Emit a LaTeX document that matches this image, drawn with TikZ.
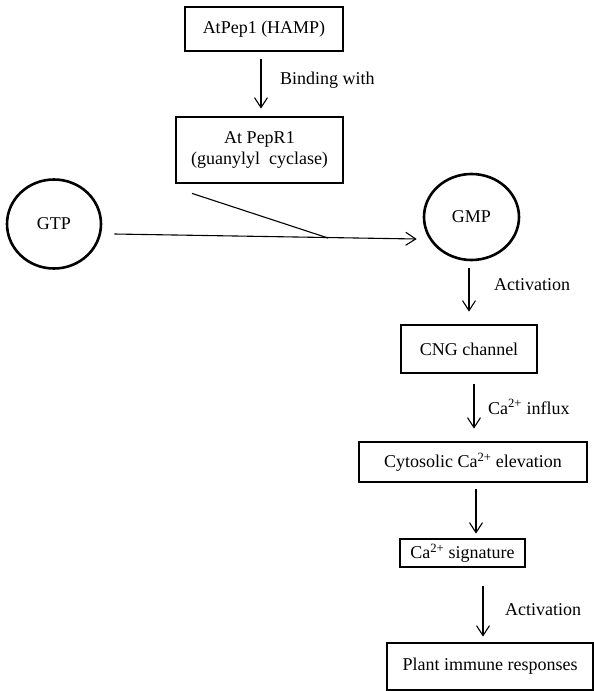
\documentclass[tikz,border=0pt]{standalone}
\usepackage{fontspec}
\setmainfont{Liberation Serif}
\usetikzlibrary{arrows.meta,calc,shapes.geometric}

\tikzset{
  box/.style={draw, line width=2.8pt, rectangle, inner sep=0pt, align=center},
  blob/.style={draw, line width=2.6pt, ellipse, inner sep=0pt},
  arr/.style={line width=1.1pt, -{Straight Barb[length=10pt,width=13pt,line width=1.1pt]}},
  plain/.style={line width=1.1pt},
  lbl/.style={anchor=west, inner sep=0pt}
}

\begin{document}
\begin{tikzpicture}[x=1pt, y=-1pt, font=\fontsize{18}{21}\selectfont]
  \useasboundingbox (0,0) rectangle (594,691);

  % receptor chain
  \node[box, minimum width=158pt, minimum height=44pt] (pep) at (264,29) {AtPep1 (HAMP)};
  \node[box, minimum width=167pt, minimum height=66pt] (pepr) at (259.5,150)
       {At PepR1\\(guanylyl\ \ cyclase)};

  % nucleotides
  \node[blob, minimum width=94pt, minimum height=89pt] (gtp) at (54,224) {GTP};
  \node[blob, minimum width=95pt, minimum height=86pt] (gmp) at (471.5,217) {GMP};

  % downstream signalling
  \node[box, minimum width=136pt, minimum height=48pt] (cng) at (469,349) {CNG channel};
  \node[box, minimum width=228pt, minimum height=40pt] (cyto) at (473,462)
       {Cytosolic Ca\textsuperscript{2+} elevation};
  \node[box, minimum width=125pt, minimum height=28pt] (sig) at (462.5,553)
       {Ca\textsuperscript{2+} signature};
  \node[box, minimum width=206pt, minimum height=47pt] (plant) at (490,666.5)
       {Plant immune responses};

  % connectors
  \draw[arr] ($(pep.south)+(-3,7)$) -- ($(pepr.north)+(1.5,-7)$);
  \node[lbl] (bind) at (280,80) {Binding with};

  \coordinate (meet) at (328,238);
  \draw[arr] ($(gtp.east)+(12,10)$) -- ($(gmp.west)+(-6,22)$);
  \draw[plain] ($(pepr.south)+(-67.5,9)$) -- (meet);

  \draw[arr] ($(gmp.south)+(-2.5,7)$) -- ($(cng.north)+(0,-12)$);
  \node[lbl] (act1) at (494,285) {Activation};

  \draw[arr] ($(cng.south)+(5,10)$) -- ($(cyto.north)+(1,-12)$);
  \node[lbl] (flux) at (488,407) {Ca\textsuperscript{2+} influx};

  \draw[arr] ($(cyto.south)+(3,6)$) -- ($(sig.north)+(13.5,-4)$);

  \draw[arr] ($(sig.south)+(20.5,18)$) -- ($(plant.north)+(-7,-5)$);
  \node[lbl] (act2) at (505,610) {Activation};
\end{tikzpicture}
\end{document}
